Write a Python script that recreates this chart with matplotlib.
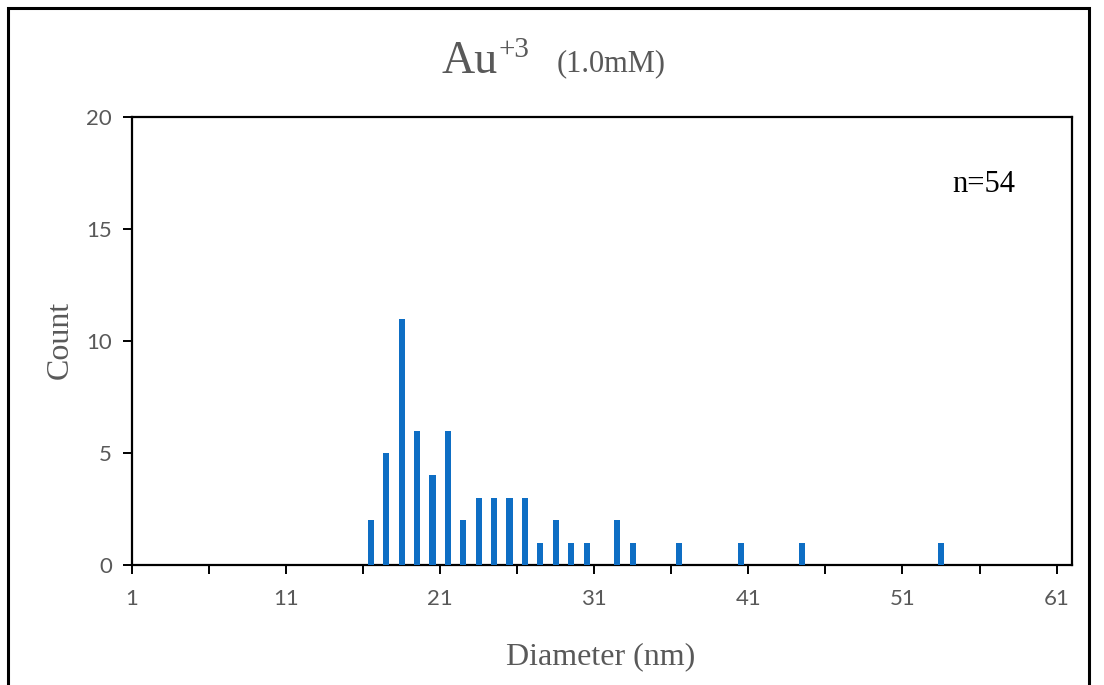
import matplotlib
matplotlib.use("Agg")
import matplotlib.pyplot as plt
from matplotlib.patches import Rectangle
from matplotlib.ticker import MultipleLocator, FixedLocator
import numpy as np

# particle size histogram, 1 nm bins
diameters = [16, 17, 18, 19, 20, 21, 22, 23, 24, 25, 26, 27, 28, 29, 30,
             32, 33, 36, 40, 44, 53]
counts = [2, 5, 11, 6, 4, 6, 2, 3, 3, 3, 3, 1, 2, 1, 1,
          2, 1, 1, 1, 1, 1]
n_label = "n=54"
x_ticks = [1, 11, 21, 31, 41, 51, 61]

gray = "#595959"
serif = "Liberation Serif"

fig = plt.figure(figsize=(11.04, 6.85), dpi=100)
W, H = 1104, 685

ax = fig.add_axes([132 / W, 1 - 565 / H, 940 / W, (565 - 117) / H])

# each category sits in the middle of its slot
x = np.array(diameters) + 0.5
ax.bar(x, counts, width=0.4, color="#0E6EC4", zorder=3)

ax.set_xlim(1, 62)
ax.set_ylim(0, 20)
ax.xaxis.set_major_locator(FixedLocator(x_ticks))
ax.xaxis.set_minor_locator(FixedLocator([6, 16, 26, 36, 46, 56]))
ax.yaxis.set_major_locator(MultipleLocator(5))

for s in ax.spines.values():
    s.set_color("black")
    s.set_linewidth(1.6)

ax.tick_params(axis="both", which="both", direction="out", length=6.5,
               width=1.4, color="black")
ax.tick_params(axis="x", which="major", labelsize=16, labelcolor=gray, pad=11)
ax.tick_params(axis="y", labelsize=16, labelcolor=gray, pad=8)
for lab in ax.get_xticklabels() + ax.get_yticklabels():
    lab.set_family("Lato")

# title pieces
fig.text(441 / W, 1 - 73 / H, "Au", fontsize=33, family=serif, color=gray,
         ha="left", va="baseline")
fig.text(499 / W, 1 - 57 / H, "+3", fontsize=21, family=serif, color=gray,
         ha="left", va="baseline")
fig.text(557 / W, 1 - 71 / H, "(1.0mM)", fontsize=22, family=serif, color=gray,
         ha="left", va="baseline")

fig.text(601 / W, 1 - 664 / H, "Diameter (nm)", fontsize=23, family=serif,
         color=gray, ha="center", va="baseline")
fig.text(60 / W, 1 - 340 / H, "Count", fontsize=23, family=serif, color=gray,
         ha="center", va="center", rotation=90)
fig.text(952 / W, 1 - 192 / H, n_label, fontsize=22, family=serif,
         color="black", ha="left", va="baseline")

# outer frame
fig.add_artist(Rectangle((8 / W, -0.1), (1089 - 8) / W, (H - 8) / H + 0.1,
                         transform=fig.transFigure, fill=False,
                         ec="black", lw=2.2))

fig.savefig("out.png", dpi=100)
